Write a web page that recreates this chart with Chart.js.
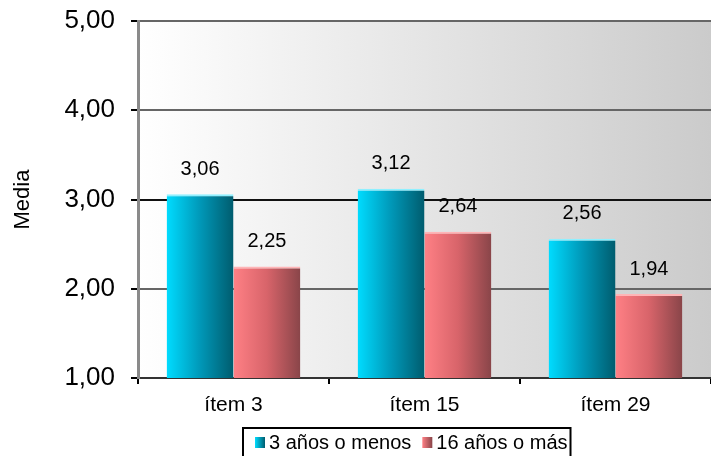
<!DOCTYPE html>
<html><head><meta charset="utf-8">
<script src="https://cdn.jsdelivr.net/npm/chart.js@4.4.1/dist/chart.umd.min.js"></script>
<style>html,body{margin:0;padding:0;background:#fff}#wrap{width:711px;height:456px}</style>
</head><body><div id="wrap"><canvas id="c" width="711" height="456"></canvas></div>
<script>
const categories = ['ítem 3', 'ítem 15', 'ítem 29'];
const seriesLabels = ['3 años o menos', '16 años o más'];
const series1 = [3.06, 3.12, 2.56];
const series2 = [2.25, 2.64, 1.94];
const yTicks = [1, 2, 3, 4, 5];
const yTitle = 'Media';

const FONT = "'Liberation Sans', Arial, sans-serif";
const barColors = [
  ['#00dcff', '#0098b8', '#005c6e'],
  ['#ff8085', '#d8646a', '#894549']
];
const CAT_PCT = 0.7;
const fmt = v => v.toFixed(2).replace('.', ',');

function barGradient(ctx) {
  const chart = ctx.chart;
  const cols = barColors[ctx.datasetIndex];
  const xs = chart.scales && chart.scales.x;
  if (!xs || !xs.width) return cols[0];
  const center = xs.getPixelForValue(ctx.dataIndex);
  const catW = xs.width / categories.length;
  const groupW = catW * CAT_PCT;
  const barW = groupW / 2;
  const left = center - groupW / 2 + ctx.datasetIndex * barW;
  const g = chart.ctx.createLinearGradient(left, 0, left + barW, 0);
  g.addColorStop(0, cols[0]);
  g.addColorStop(0.5, cols[1]);
  g.addColorStop(1, cols[2]);
  return g;
}

const bgPlugin = {
  id: 'bg',
  beforeDraw(chart) {
    const {ctx, chartArea: a} = chart;
    const g = ctx.createLinearGradient(a.left, 0, a.right, 0);
    g.addColorStop(0, '#ffffff');
    g.addColorStop(1, '#cbcbcb');
    ctx.save();
    ctx.fillStyle = g;
    ctx.fillRect(a.left, a.top, a.right - a.left, a.bottom - a.top);
    ctx.restore();
  }
};

const labelPlugin = {
  id: 'vals',
  afterDatasetsDraw(chart) {
    const ctx = chart.ctx;
    ctx.save();
    ctx.font = '20px ' + FONT;
    ctx.fillStyle = '#000';
    ctx.textAlign = 'center';
    ctx.textBaseline = 'middle';
    chart.data.datasets.forEach((ds, di) => {
      chart.getDatasetMeta(di).data.forEach((el, i) => {
        ctx.fillText(fmt(ds.data[i]), el.x, el.y - 25);
      });
    });
    ctx.restore();
  }
};

const legendPlugin = {
  id: 'boxLegend',
  afterDraw(chart) {
    const ctx = chart.ctx;
    ctx.save();
    ctx.font = '20px ' + FONT;
    const padL = 12, padR = 3, box = 10, gapBox = 4, gapItem = 11;
    const widths = seriesLabels.map(s => ctx.measureText(s).width);
    let total = padL + padR;
    widths.forEach((w, i) => { total += box + gapBox + w + (i < widths.length - 1 ? gapItem : 0); });
    const cx = 407, top = 428, h = 34, cy = 443;
    const left = Math.round(cx - total / 2);
    ctx.fillStyle = '#fff';
    ctx.fillRect(left, top, total, h);
    ctx.lineWidth = 2;
    ctx.strokeStyle = '#000';
    ctx.strokeRect(left, top, total, h);
    let x = left + padL;
    ctx.textBaseline = 'middle';
    ctx.textAlign = 'left';
    widths.forEach((w, i) => {
      const cols = barColors[i];
      const g = ctx.createLinearGradient(x, 0, x + box, 0);
      g.addColorStop(0, cols[0]); g.addColorStop(1, cols[2]);
      ctx.fillStyle = g;
      ctx.fillRect(x, cy - 6, box, 11);
      x += box + gapBox;
      ctx.fillStyle = '#000';
      ctx.fillText(seriesLabels[i], x, cy);
      x += w + gapItem;
    });
    ctx.restore();
  }
};

new Chart(document.getElementById('c'), {
  type: 'bar',
  data: {
    labels: categories,
    datasets: [
      { label: seriesLabels[0], data: series1, backgroundColor: barGradient,
        borderColor: '#8ff0ff', borderWidth: {top: 2, left: 0, right: 0, bottom: 0}, borderSkipped: false },
      { label: seriesLabels[1], data: series2, backgroundColor: barGradient,
        borderColor: '#ffb4b6', borderWidth: {top: 2, left: 0, right: 0, bottom: 0}, borderSkipped: false }
    ]
  },
  options: {
    responsive: false,
    animation: false,
    layout: { padding: { top: 21, right: 0, bottom: 0, left: 0 } },
    datasets: { bar: { categoryPercentage: CAT_PCT, barPercentage: 1 } },
    plugins: { legend: { display: false }, tooltip: { enabled: false } },
    scales: {
      x: {
        ticks: { color: '#000', font: { family: FONT, size: 21 }, padding: 9 },
        grid: { drawOnChartArea: false, offset: true, tickLength: 6, tickColor: '#000', lineWidth: 2 },
        border: { color: '#333', width: 2 },
        afterFit(s) { s.height = 78; s.paddingLeft = 0; s.paddingRight = 0; }
      },
      y: {
        min: 1, max: 5,
        afterBuildTicks(s) { s.ticks = yTicks.map(v => ({ value: v })); },
        ticks: { color: '#000', font: { family: FONT, size: 26 }, padding: 16, callback: v => fmt(v) },
        grid: {
          color: c => (c.tick && c.tick.value === 3) ? '#111' : '#666',
          lineWidth: 2, tickLength: 7, tickColor: '#000'
        },
        border: { color: '#8a8a8a', width: 3 },
        title: { display: true, text: yTitle, color: '#000', font: { family: FONT, size: 22 }, padding: { top: 10, bottom: 0 } },
        afterFit(s) { s.width = 138; s.paddingTop = 0; s.paddingBottom = 0; }
      }
    }
  },
  plugins: [bgPlugin, labelPlugin, legendPlugin]
});
</script></body></html>
